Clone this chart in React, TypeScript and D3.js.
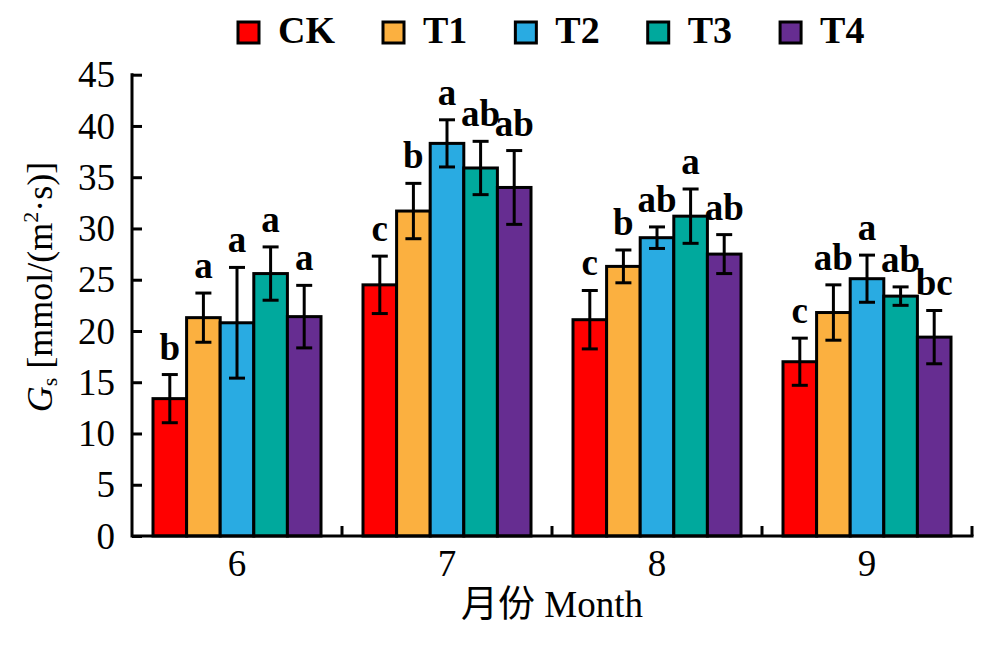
import React, { useEffect, useRef } from "react";
import * as d3 from "d3";

const months = ["6", "7", "8", "9"];
const treatments = ["CK", "T1", "T2", "T3", "T4"];
const colors = ["#FF0000", "#FBB040", "#29ABE2", "#00A99D", "#662D91"];

// mean Gs per treatment, one value per month
const ckMean = [13.4, 24.5, 21.1, 17.0];
const t1Mean = [21.3, 31.7, 26.3, 21.8];
const t2Mean = [20.8, 38.3, 29.1, 25.1];
const t3Mean = [25.6, 35.9, 31.2, 23.4];
const t4Mean = [21.4, 34.0, 27.5, 19.4];

// standard errors
const ckErr = [2.35, 2.8, 2.85, 2.3];
const t1Err = [2.4, 2.7, 1.6, 2.7];
const t2Err = [5.4, 2.3, 1.05, 2.3];
const t3Err = [2.6, 2.6, 2.65, 0.9];
const t4Err = [3.05, 3.6, 1.9, 2.6];

// significance letters
const ckSig = ["b", "c", "c", "c"];
const t1Sig = ["a", "b", "b", "ab"];
const t2Sig = ["a", "a", "ab", "a"];
const t3Sig = ["a", "ab", "a", "ab"];
const t4Sig = ["a", "ab", "ab", "bc"];

const yTicks = [0, 5, 10, 15, 20, 25, 30, 35, 40, 45];

const means = [ckMean, t1Mean, t2Mean, t3Mean, t4Mean];
const errs = [ckErr, t1Err, t2Err, t3Err, t4Err];
const sigs = [ckSig, t1Sig, t2Sig, t3Sig, t4Sig];

const FONT = '"Liberation Serif", "Times New Roman", "Noto Sans CJK SC", serif';

const App = () => {
  const svgRef = useRef<SVGSVGElement>(null);

  useEffect(() => {
    document.body.style.margin = "0";
    if (!svgRef.current) return;

    const svg = d3.select(svgRef.current);
    svg.selectAll("*").remove();

    const left = 132;
    const right = 972;
    const top = 74.7;
    const bottom = 536;
    const sw = 3;

    const x0 = d3
      .scaleBand()
      .domain(months)
      .range([left, right])
      .paddingInner(0.2)
      .paddingOuter(0.1);

    const x1 = d3.scaleBand().domain(treatments).range([0, x0.bandwidth()]);

    const y = d3.scaleLinear().domain([0, 45]).range([bottom, top]);

    const rows = months.flatMap((m, mi) =>
      treatments.map((t, ti) => ({
        month: m,
        trt: t,
        color: colors[ti],
        mean: means[ti][mi],
        err: errs[ti][mi],
        sig: sigs[ti][mi],
      }))
    );

    // Bars
    svg
      .append("g")
      .selectAll("rect")
      .data(rows)
      .enter()
      .append("rect")
      .attr("x", (d) => x0(d.month)! + x1(d.trt)!)
      .attr("y", (d) => y(d.mean))
      .attr("width", x1.bandwidth())
      .attr("height", (d) => y(0) - y(d.mean))
      .attr("fill", (d) => d.color)
      .attr("stroke", "#000")
      .attr("stroke-width", sw);

    // Error bars
    const cap = 8;
    const eb = svg
      .append("g")
      .attr("stroke", "#000")
      .attr("stroke-width", sw)
      .selectAll("g")
      .data(rows)
      .enter()
      .append("g")
      .attr("transform", (d) => `translate(${x0(d.month)! + x1(d.trt)! + x1.bandwidth() / 2},0)`);

    eb.append("line")
      .attr("y1", (d) => y(d.mean - d.err))
      .attr("y2", (d) => y(d.mean + d.err));
    eb.append("line")
      .attr("x1", -cap)
      .attr("x2", cap)
      .attr("y1", (d) => y(d.mean + d.err))
      .attr("y2", (d) => y(d.mean + d.err));
    eb.append("line")
      .attr("x1", -cap)
      .attr("x2", cap)
      .attr("y1", (d) => y(d.mean - d.err))
      .attr("y2", (d) => y(d.mean - d.err));

    // Letters
    svg
      .append("g")
      .selectAll("text")
      .data(rows)
      .enter()
      .append("text")
      .attr("x", (d) => x0(d.month)! + x1(d.trt)! + x1.bandwidth() / 2)
      .attr("y", (d) => y(d.mean + d.err) - 15)
      .attr("text-anchor", "middle")
      .attr("font-family", FONT)
      .attr("font-weight", "bold")
      .attr("font-size", 37)
      .text((d) => d.sig);

    // Y axis
    const yAxis = svg
      .append("g")
      .attr("transform", `translate(${left},0)`)
      .call(d3.axisLeft(y).tickValues(yTicks).tickSizeInner(-10).tickSizeOuter(0).tickPadding(17));
    yAxis.select(".domain").remove();
    yAxis.selectAll("line").attr("stroke", "#000").attr("stroke-width", sw);
    yAxis
      .selectAll("text")
      .attr("font-family", FONT)
      .attr("font-size", 37)
      .attr("fill", "#000")
      .attr("dy", "0.33em");

    // X axis labels
    const xAxis = svg
      .append("g")
      .attr("transform", `translate(0,${bottom})`)
      .call(d3.axisBottom(x0).tickSize(0).tickPadding(14));
    xAxis.select(".domain").remove();
    xAxis
      .selectAll("text")
      .attr("font-family", FONT)
      .attr("font-size", 37)
      .attr("fill", "#000")
      .attr("dy", "0.71em");

    // X boundary ticks between months
    const bounds = months.map((m) => x0(m)! + x0.bandwidth() + x0.step() * 0.1);
    svg
      .append("g")
      .selectAll("line")
      .data(bounds)
      .enter()
      .append("line")
      .attr("x1", (d) => d)
      .attr("x2", (d) => d)
      .attr("y1", bottom)
      .attr("y2", bottom - 10)
      .attr("stroke", "#000")
      .attr("stroke-width", sw);

    // Axis lines
    svg
      .append("path")
      .attr("d", `M${left},${top}V${bottom}H${right}`)
      .attr("fill", "none")
      .attr("stroke", "#000")
      .attr("stroke-width", sw)
      .attr("stroke-linecap", "square");

    // Axis titles
    svg
      .append("text")
      .attr("x", (left + right) / 2)
      .attr("y", 617)
      .attr("text-anchor", "middle")
      .attr("font-family", FONT)
      .attr("font-size", 37)
      .text("月份 Month");

    const yt = svg
      .append("text")
      .attr("transform", "translate(52,287) rotate(-90)")
      .attr("text-anchor", "middle")
      .attr("font-family", FONT)
      .attr("font-size", 36);
    yt.append("tspan").attr("font-style", "italic").text("G");
    yt.append("tspan").attr("font-size", 22).attr("dy", 5).text("s");
    yt.append("tspan").attr("dy", -5).text(" [mmol/(m");
    yt.append("tspan").attr("font-size", 22).attr("dy", -14).text("2");
    yt.append("tspan").attr("dy", 14).text("·s)]");

    // Legend
    const legend = svg.append("g");
    let lx = 238;
    treatments.forEach((t, i) => {
      legend
        .append("rect")
        .attr("x", lx)
        .attr("y", 22)
        .attr("width", 21)
        .attr("height", 21)
        .attr("fill", colors[i])
        .attr("stroke", "#000")
        .attr("stroke-width", sw);
      const txt = legend
        .append("text")
        .attr("x", lx + 40)
        .attr("y", 43)
        .attr("font-family", FONT)
        .attr("font-weight", "bold")
        .attr("font-size", 38)
        .text(t);
      const w = (txt.node() as SVGTextElement).getComputedTextLength();
      lx += 40 + w + 48;
    });
  }, []);

  return <svg ref={svgRef} width={984} height={648} style={{ display: "block", background: "#fff" }} />;
};

export default App;
